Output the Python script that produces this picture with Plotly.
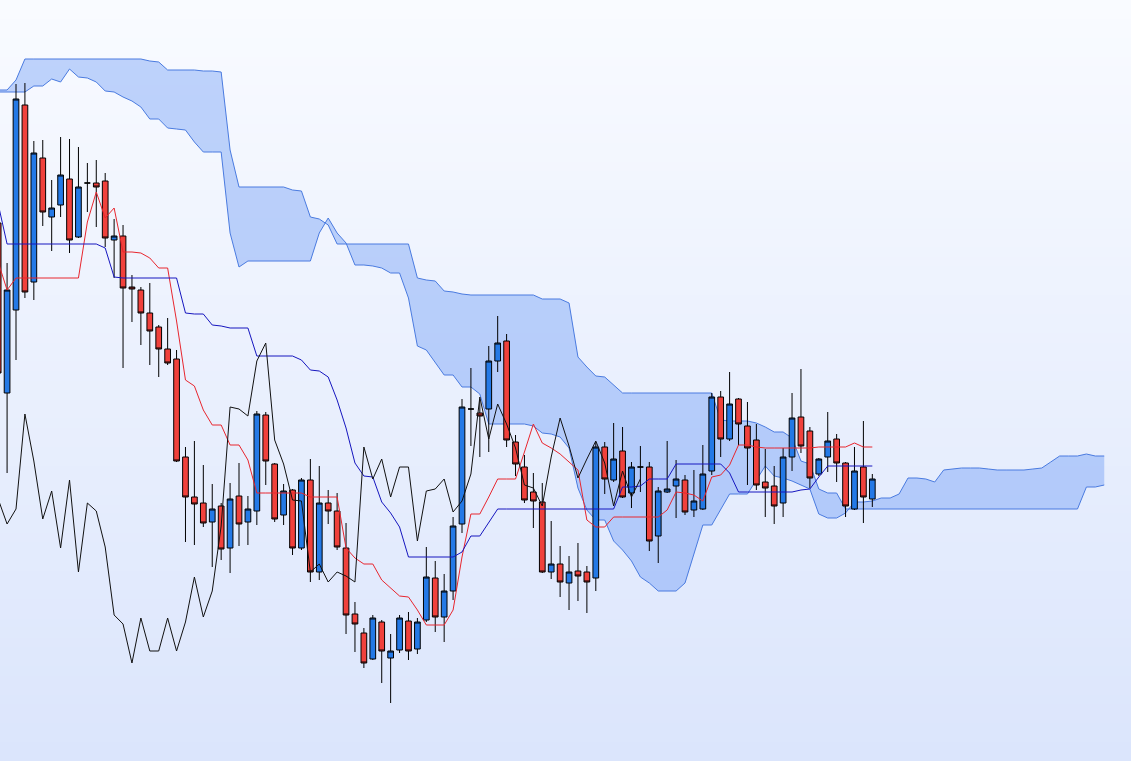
import plotly.graph_objects as go

# ---- candle data (period index, price levels) ----
idx = list(range(-1, 98))
opens = [538, 368, 451, 656, 479, 603, 544, 556, 582, 524,
         578, 578, 580, 521, 525, 474, 471, 448, 434, 412,
         402, 304, 264, 258, 239, 255, 213, 265, 239, 250,
         346, 297, 246, 271, 213, 281, 189, 258, 250, 213,
         147, 128, 102, 139, 103, 111, 140, 112, 141, 183,
         144, 170, 237, 352, 348, 352, 400, 420, 319, 294,
         269, 259, 189, 197, 178, 190, 189, 183, 314, 281,
         310, 268, 294, 294, 225, 269, 275, 281, 251, 252,
         290, 364, 322, 362, 335, 321, 279, 275, 258, 304,
         344, 330, 287, 304, 322, 298, 252, 294, 262]
highs = [546, 498, 677, 678, 620, 621, 581, 624, 622, 614,
         598, 601, 588, 542, 536, 486, 474, 478, 436, 443,
         411, 314, 320, 296, 277, 258, 278, 298, 265, 350,
         349, 298, 277, 272, 283, 302, 295, 271, 268, 238,
         159, 133, 146, 141, 127, 146, 149, 143, 214, 200,
         187, 244, 362, 393, 361, 415, 445, 427, 326, 306,
         288, 278, 240, 215, 205, 218, 195, 319, 319, 338,
         334, 299, 315, 299, 274, 320, 301, 286, 291, 316,
         368, 370, 389, 363, 359, 337, 312, 295, 313, 368,
         392, 334, 303, 349, 327, 299, 314, 340, 287]
lows = [381, 288, 401, 463, 461, 535, 510, 544, 508, 523,
        549, 534, 514, 483, 393, 439, 416, 396, 384, 396,
        299, 219, 216, 234, 194, 201, 188, 215, 216, 236,
        276, 239, 236, 206, 211, 179, 181, 237, 211, 127,
        109, 93, 101, 78, 58, 108, 101, 107, 139, 129,
        119, 161, 228, 315, 304, 309, 389, 314, 285, 258,
        233, 188, 182, 164, 151, 160, 148, 170, 267, 279,
        263, 253, 269, 210, 198, 268, 243, 246, 244, 251,
        286, 304, 320, 316, 276, 271, 244, 237, 244, 290,
        308, 273, 285, 289, 279, 244, 251, 238, 254]
closes = [388, 471, 662, 469, 608, 549, 553, 586, 521, 574,
          578, 574, 523, 525, 473, 472, 448, 430, 412, 398,
          300, 264, 257, 238, 252, 212, 262, 237, 252, 347,
          300, 242, 270, 213, 281, 189, 258, 250, 214, 146,
          137, 98, 143, 110, 110, 143, 110, 139, 184, 144,
          170, 235, 354, 352, 345, 400, 418, 321, 297, 261,
          260, 189, 197, 179, 189, 185, 179, 314, 282, 302,
          264, 294, 294, 220, 270, 272, 282, 249, 260, 287,
          364, 322, 357, 337, 313, 276, 273, 255, 304, 343,
          315, 283, 302, 320, 298, 255, 290, 264, 282]

# ---- Ichimoku lines ----
tenkan = [499, 471, 483, 483, 483, 483, 483, 483, 483, 483,
          539, 569, 543, 553, 509, 509, 508, 503, 493, 493,
          440, 381, 375, 351, 336, 336, 316, 316, 301, 268,
          268, 268, 268, 268, 268, 264, 264, 264, 264, 213,
          203, 197, 197, 181, 173, 165, 164, 151, 136, 136,
          136, 151, 204, 247, 247, 264, 282, 282, 282, 309,
          337, 318, 313, 307, 299, 291, 241, 234, 234, 244,
          244, 244, 244, 244, 244, 251, 269, 268, 266, 260,
          284, 286, 296, 316, 316, 314, 313, 313, 313, 313,
          313, 313, 314, 314, 314, 314, 318, 314, 314]
kijun = [557, 517, 517, 517, 517, 517, 517, 517, 517, 517,
         517, 517, 513, 484, 483, 483, 483, 483, 483, 483,
         483, 448, 447, 447, 436, 435, 433, 433, 433, 405,
         405, 405, 405, 405, 401, 391, 390, 384, 361, 333,
         298, 285, 284, 259, 248, 234, 204, 204, 204, 204,
         204, 204, 209, 225, 225, 238, 252, 252, 252, 252,
         252, 252, 252, 252, 252, 252, 252, 252, 252, 252,
         274, 274, 275, 282, 282, 282, 297, 297, 297, 297,
         297, 297, 288, 269, 269, 269, 269, 269, 269, 269,
         271, 272, 284, 295, 295, 295, 295, 295, 295]

cloud_idx = list(range(-1, 124))
senkou_a = [669, 669, 669, 669, 675, 675, 682, 679, 692, 684, 683, 679, 670,
            669, 664, 660, 654, 642, 642, 633, 632, 631, 619, 609, 609, 609,
            528, 494, 500, 500, 500, 500, 500, 500, 500, 500,
            528, 543, 528, 518, 496, 496, 495, 493, 488, 488,
            463, 415, 411, 399, 386, 386, 374, 374, 367, 337,
            337, 337, 337, 337, 335, 328, 327, 324, 313, 273,
            251, 241, 241, 220, 211, 200, 184, 178, 170, 170,
            170, 178, 207, 236, 236, 251, 267, 267, 267, 281,
            295, 285, 283, 280, 276, 272, 247, 243, 243, 248,
            259, 259, 260, 263, 263, 267, 283, 283, 282, 279,
            291, 292, 293, 293, 293, 292, 291, 291, 291, 291,
            292, 293, 299, 305, 305, 305, 307, 305, 305]
senkou_b = [671, 671, 681, 702, 702, 702, 702, 702, 702, 702, 702, 702, 702,
            702, 702, 702, 702, 700, 699, 691, 691, 691, 691, 690, 690, 689,
            611, 574, 574, 574, 574, 574, 574, 571, 570, 544,
            542, 536, 517, 517, 517, 517, 517, 517, 517, 517,
            517, 483, 481, 480, 470, 469, 467, 466, 466, 466,
            466, 466, 466, 466, 466, 462, 462, 462, 458, 404,
            394, 385, 384, 376, 368, 368, 368, 368, 368, 368,
            368, 368, 368, 368, 368, 341, 340, 340, 340, 338,
            334, 329, 329, 323, 300, 297, 272, 268, 268, 252,
            252, 252, 252, 252, 252, 252, 252, 252, 252, 252,
            252, 252, 252, 252, 252, 252, 252, 252, 252, 252,
            252, 252, 252, 252, 252, 252, 274, 274, 276]

# lagging span: closes plotted 26 periods back
chikou_idx = list(range(-1, 72))
chikou = closes[26:]

CLOUD_LINE = "#4a7be0"
X_RANGE = [-0.7937, 126.0]
Y_RANGE = [0, 761]

fig = go.Figure()
# cloud on the base axes (drawn underneath)
fig.add_trace(go.Scatter(x=cloud_idx, y=senkou_a, mode="lines",
                         line=dict(color=CLOUD_LINE, width=1),
                         hoverinfo="skip", showlegend=False))
fig.add_trace(go.Scatter(x=cloud_idx, y=senkou_b, mode="lines",
                         line=dict(color=CLOUD_LINE, width=1),
                         fill="tonexty", fillcolor="rgba(90,140,245,0.36)",
                         hoverinfo="skip", showlegend=False))
# candles and lines on the overlaid axes (drawn on top)
fig.add_trace(go.Candlestick(
    x=idx, open=opens, high=highs, low=lows, close=closes,
    xaxis="x2", yaxis="y2",
    increasing=dict(line=dict(color="black", width=1), fillcolor="#2479e6"),
    decreasing=dict(line=dict(color="black", width=1), fillcolor="#f0413c"),
    whiskerwidth=0, hoverinfo="skip", showlegend=False))
fig.add_trace(go.Scatter(x=idx, y=tenkan, mode="lines", xaxis="x2", yaxis="y2",
                         line=dict(color="#e8262e", width=1),
                         hoverinfo="skip", showlegend=False))
fig.add_trace(go.Scatter(x=idx, y=kijun, mode="lines", xaxis="x2", yaxis="y2",
                         line=dict(color="#1616bf", width=1),
                         hoverinfo="skip", showlegend=False))
fig.add_trace(go.Scatter(x=chikou_idx, y=chikou, mode="lines", xaxis="x2", yaxis="y2",
                         line=dict(color="#111111", width=1),
                         hoverinfo="skip", showlegend=False))

# vertical background gradient
top = (249, 251, 255)
bot = (219, 229, 252)
N = 80
shapes = []
for k in range(N):
    t = k / (N - 1)
    c = tuple(round(top[j] + (bot[j] - top[j]) * t) for j in range(3))
    shapes.append(dict(type="rect", xref="paper", yref="paper",
                       x0=0, x1=1, y0=1 - (k + 1) / N - 0.002, y1=1 - k / N,
                       fillcolor="rgb(%d,%d,%d)" % c, line=dict(width=0),
                       layer="below"))

axis_common = dict(visible=False, showgrid=False, zeroline=False)
fig.update_layout(
    width=1131, height=761,
    margin=dict(l=0, r=0, t=0, b=0, pad=0),
    paper_bgcolor="rgb(234,240,253)",
    plot_bgcolor="rgba(0,0,0,0)",
    shapes=shapes,
    showlegend=False,
    hovermode=False,
    boxgap=0.36, boxgroupgap=0,
    xaxis=dict(range=X_RANGE, rangeslider=dict(visible=False), **axis_common),
    yaxis=dict(range=Y_RANGE, **axis_common),
    xaxis2=dict(range=X_RANGE, overlaying="x", rangeslider=dict(visible=False), **axis_common),
    yaxis2=dict(range=Y_RANGE, overlaying="y", **axis_common),
)

fig.write_html("out.html", config={"displayModeBar": False},
               post_script="document.body.style.margin='0';document.body.style.overflow='hidden';")
